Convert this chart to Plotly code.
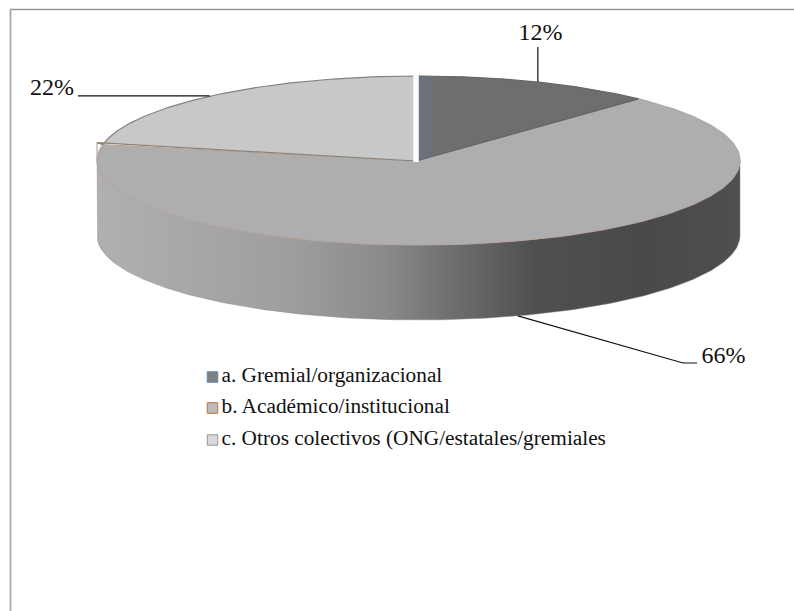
import numpy as np
import plotly.graph_objects as go

# Survey shares per type of collective
categories = ["a. Gremial/organizacional", "b. Académico/institucional",
              "c. Otros colectivos (ONG/estatales/gremiales"]
shares = [12, 66, 22]
labels = ["12%", "66%", "22%"]

# Slice styling, in category order
face_colors = ["#6e6e6e", "#aeaeae", "#c8c8c8"]
edge_colors = ["#5f656c", "#b3a69e", "#8a8279"]
swatch_fill = ["#7f7f7f", "#bcbcbc", "#d9d9d9"]
swatch_line = ["#5b8ab8", "#c0703c", "#9a9a9a"]

# Projection of the tilted disc, in page pixels
W, H = 794, 611
CX, CY, RX, RY = 418.5, 160.5, 321.5, 84.5
APEX = (416, 161)
DEPTH = 75


def rim(theta_deg, drop=0.0):
    """Point on the disc rim; theta runs clockwise from twelve o'clock."""
    t = np.radians(theta_deg)
    return CX + RX * np.sin(t), CY - RY * np.cos(t) + drop


fractions = np.array(shares) / sum(shares)
ends = np.cumsum(fractions) * 360
starts = ends - fractions * 360
mids = (starts + ends) / 2

# Perspective pushes the far-left seam out to the disc's full width
seam_x, seam_y = CX - RX, rim(ends[1])[1] - 2

fig = go.Figure()

# Outer wall of the largest slice, shaded from left to right
arc = np.linspace(90.0, 270.0, 240)
top_x, top_y = rim(arc)
bot_x, bot_y = rim(arc[::-1], DEPTH)
fig.add_trace(go.Scatter(
    x=np.concatenate([top_x, [seam_x], bot_x, top_x[:1]]),
    y=np.concatenate([top_y, [seam_y], bot_y, top_y[:1]]),
    mode="lines", fill="toself",
    line=dict(color="rgba(150,125,110,0.45)", width=1),
    fillgradient=dict(type="horizontal", colorscale=[
        [0.00, "#b0b0b0"], [0.10, "#aaaaaa"], [0.30, "#9e9e9e"],
        [0.45, "#8a8a8a"], [0.55, "#6f6f6f"], [0.68, "#505050"],
        [0.85, "#494949"], [1.00, "#4f4f4f"]]),
    hoverinfo="skip", showlegend=False))

# Top faces, largest slice first so the others sit over its edge
for i in (1, 0, 2):
    theta = np.linspace(starts[i], ends[i], 160)
    ax, ay = rim(theta)
    if i == 2:
        ax, ay = np.concatenate([[seam_x], ax]), np.concatenate([[seam_y], ay])
    trace = dict(
        x=np.concatenate([[APEX[0]], ax, [APEX[0]]]),
        y=np.concatenate([[APEX[1]], ay, [APEX[1]]]),
        mode="lines", fill="toself",
        line=dict(color=edge_colors[i], width=1.2),
        hoverinfo="skip", showlegend=False)
    if i == 0:
        # Slight cool tint towards the gap
        trace["fillgradient"] = dict(type="horizontal", colorscale=[
            [0.0, "#6b7480"], [0.12, "#6e6e6e"], [1.0, "#6e6e6e"]])
    else:
        trace["fillcolor"] = face_colors[i]
    fig.add_trace(go.Scatter(**trace))

# White gap along the twelve o'clock radius
gap_x, gap_y = rim(0.0)
fig.add_trace(go.Scatter(
    x=[APEX[0], APEX[0]], y=[APEX[1] + 1, gap_y - 2], mode="lines",
    line=dict(color="white", width=5.5), hoverinfo="skip", showlegend=False))

# Leader lines start on the rim at each slice's mid angle
lead_x, lead_y = rim(mids[0])
fig.add_trace(go.Scatter(x=[lead_x + 1, lead_x + 1], y=[lead_y, 47], mode="lines",
                         line=dict(color="#111111", width=1.2),
                         hoverinfo="skip", showlegend=False))
lead_x, lead_y = rim(mids[1], DEPTH)
fig.add_trace(go.Scatter(x=[lead_x, 683, 697], y=[lead_y, 363, 363], mode="lines",
                         line=dict(color="#111111", width=1.2),
                         hoverinfo="skip", showlegend=False))
lead_x, lead_y = rim(mids[2])
fig.add_trace(go.Scatter(x=[lead_x - 4, 78], y=[lead_y + 0.5, lead_y + 0.5], mode="lines",
                         line=dict(color="#111111", width=1.2),
                         hoverinfo="skip", showlegend=False))

# Percentage labels
label_xy = [(540.5, 34), (723.5, 357), (52, 89)]
fig.add_trace(go.Scatter(
    x=[p[0] for p in label_xy], y=[p[1] for p in label_xy],
    mode="text", text=labels, textposition="middle center",
    textfont=dict(family="Liberation Serif", size=24, color="#111111"),
    hoverinfo="skip", showlegend=False))

# Key below the disc
key_y = [377, 408, 440]
fig.add_trace(go.Scatter(
    x=[212.5] * 3, y=key_y, mode="markers",
    marker=dict(symbol="square", size=10.5, color=swatch_fill,
                line=dict(color=swatch_line, width=1)),
    hoverinfo="skip", showlegend=False))
fig.add_trace(go.Scatter(
    x=[221.5] * 3, y=key_y, mode="text",
    text=categories, textposition="middle right",
    textfont=dict(family="Liberation Serif", size=21.3, color="#111111"),
    hoverinfo="skip", showlegend=False))

fig.update_layout(
    width=W, height=H, margin=dict(l=0, r=0, t=0, b=0),
    paper_bgcolor="white", plot_bgcolor="white", showlegend=False,
    xaxis=dict(range=[0, W], visible=False, fixedrange=True),
    yaxis=dict(range=[H, 0], visible=False, fixedrange=True),
    shapes=[
        dict(type="line", xref="paper", yref="paper", x0=10 / W, x1=1,
             y0=1 - 9.5 / H, y1=1 - 9.5 / H, line=dict(color="#969696", width=1.3)),
        dict(type="line", xref="paper", yref="paper", x0=10.5 / W, x1=10.5 / W,
             y0=1 - 9.5 / H, y1=0, line=dict(color="#a8a8a8", width=1.8)),
    ],
)

fig.write_html("out.html", config=dict(displayModeBar=False))
